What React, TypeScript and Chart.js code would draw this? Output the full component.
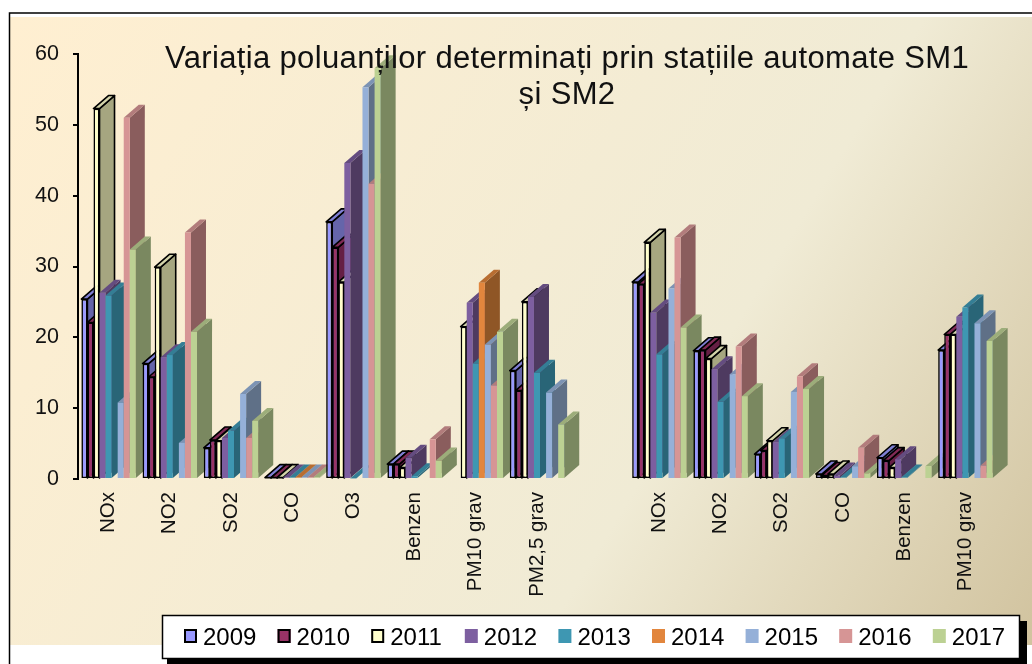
import React, { useEffect, useRef } from "react";
import { Chart, registerables } from "chart.js";

Chart.register(...registerables);

const categories = ["NOx", "NO2", "SO2", "CO", "O3", "Benzen", "PM10 grav", "PM2,5 grav", "", "NOx", "NO2", "SO2", "CO", "Benzen", "PM10 grav"];
const years = ["2009", "2010", "2011", "2012", "2013", "2014", "2015", "2016", "2017"];

const values2009 = [25.4, 16.3, 4.4, 0.2, 36.3, 2.1, null, 15.3, null, 27.8, 18.1, 3.5, 0.7, 3, 18.2];
const values2010 = [22.1, 14.4, 5.5, 0.2, 32.7, 2.1, null, 12.5, null, 27.5, 18.2, 4, 0.5, 2.6, 20.4];
const values2011 = [52.3, 29.9, 5.4, 0.2, 27.8, 1.6, 21.5, 25, null, 33.4, 17, 5.4, 0.7, 1.6, 20.4];
const values2012 = [26.3, 17.2, 5.8, 0.2, 44.6, 3, 24.9, 25.7, null, 23.5, 15.5, 5.2, 0.5, 2.8, 22.9];
const values2013 = [25.9, 17.5, 6.8, 0.2, 0.1, 0.4, 16.3, 15, null, 17.6, 10.9, 5.7, 0.2, 0.2, 24.2];
const values2014 = [null, null, null, 0.2, null, null, 27.7, null, null, null, null, null, null, null, null];
const values2015 = [10.8, 5.1, 12, 0.2, 55.3, null, 19, 12.2, null, 26.9, 14.8, 12.3, 1.8, null, 22];
const values2016 = [51, 34.8, 5.8, 0.2, 41.7, 5.6, 13.2, null, null, 34.1, 18.7, 14.5, 4.4, null, 1.9];
const values2017 = [32.4, 20.8, 8.2, 0.2, 58, 2.6, 20.8, 7.7, null, 21.4, 11.7, 12.7, 0.8, 1.8, 19.5];
const seriesValues = [values2009, values2010, values2011, values2012, values2013, values2014, values2015, values2016, values2017];

const frontColors = ["#9999FF", "#993366", "#FFFFCC", "#7D5FA0", "#3E97B2", "#E2863D", "#95B0D8", "#D69595", "#BCD193"];
const sideColors = ["#6565AA", "#651F44", "#A6A680", "#4E3A60", "#296577", "#8F5626", "#5F7087", "#8A5D5D", "#7A8860"];
const topColors = ["#7F7FD4", "#802A55", "#D4D4AA", "#644C80", "#347E95", "#B86D31", "#7C93B4", "#B27C7C", "#9CAD7A"];
const borderedSeries = [true, true, true, false, false, false, false, false, false];

const TITLE = ["Variația poluanților determinați prin stațiile automate SM1", "și SM2"];
const DEPTH_X = 15;
const DEPTH_Y = 13;

const pagePlugin = {
  id: "page",
  beforeDraw(chart: any) {
    const { ctx } = chart;
    ctx.save();
    ctx.fillStyle = "#FFFFFF";
    ctx.fillRect(0, 0, 1032, 664);
    const g = ctx.createLinearGradient(10, 17, 1032, 645);
    g.addColorStop(0, "#FFEFD1");
    g.addColorStop(0.65, "#F0EBD5");
    g.addColorStop(1, "#D1C39F");
    ctx.fillStyle = g;
    ctx.fillRect(10, 17, 1022, 628);
    ctx.strokeStyle = "#000";
    ctx.lineWidth = 1.5;
    ctx.beginPath();
    ctx.moveTo(9.5, 664);
    ctx.lineTo(9.5, 13);
    ctx.lineTo(1032, 13);
    ctx.stroke();
    ctx.restore();
  },
};

const bars3dPlugin = {
  id: "bars3d",
  beforeLayout(chart: any) {
    const t = chart.titleBlock;
    if (t)
      t._layers = () => [
        {
          z: 5,
          draw: (a: any) => {
            const c = chart.ctx;
            c.save();
            c.letterSpacing = "0.35px";
            t.draw(a);
            c.restore();
          },
        },
      ];
  },
  afterLayout(chart: any) {
    const t = chart.titleBlock;
    if (t) {
      t.left = 51;
      t.right = 1083;
    }
  },
  beforeDatasetsDraw(chart: any) {
    const { ctx } = chart;
    const n = chart.data.labels.length;
    for (let i = 0; i < n; i++) {
      chart.data.datasets.forEach((_d: any, s: number) => {
        if (seriesValues[s][i] == null) return;
        const el = chart.getDatasetMeta(s).data[i];
        const l = el.x - el.width / 2;
        const r = el.x + el.width / 2;
        const top = el.y;
        const base = el.base;
        ctx.save();
        ctx.lineJoin = "round";
        const stroke = borderedSeries[s];
        ctx.strokeStyle = "#000";
        ctx.lineWidth = 1.6;
        ctx.fillStyle = sideColors[s];
        ctx.beginPath();
        ctx.moveTo(r, top);
        ctx.lineTo(r + DEPTH_X, top - DEPTH_Y);
        ctx.lineTo(r + DEPTH_X, base - DEPTH_Y);
        ctx.lineTo(r, base);
        ctx.closePath();
        ctx.fill();
        if (stroke) ctx.stroke();
        ctx.fillStyle = topColors[s];
        ctx.beginPath();
        ctx.moveTo(l, top);
        ctx.lineTo(l + DEPTH_X, top - DEPTH_Y);
        ctx.lineTo(r + DEPTH_X, top - DEPTH_Y);
        ctx.lineTo(r, top);
        ctx.closePath();
        ctx.fill();
        if (stroke) ctx.stroke();
        ctx.restore();
        el.draw(ctx, chart.chartArea);
      });
    }
    return false;
  },
};

const legendBoxPlugin = {
  id: "legendBox",
  afterDraw(chart: any) {
    const { ctx } = chart;
    ctx.save();
    ctx.fillStyle = "#000";
    ctx.fillRect(167, 621, 860, 43);
    ctx.fillStyle = "#FFF";
    ctx.fillRect(162, 615, 858, 44);
    ctx.strokeStyle = "#000";
    ctx.lineWidth = 1.5;
    ctx.strokeRect(162.5, 615.5, 857, 43);
    ctx.font = '24px "Liberation Sans"';
    ctx.textBaseline = "alphabetic";
    ctx.textAlign = "left";
    chart.data.datasets.forEach((d: any, s: number) => {
      const x = 184 + s * 93.6;
      ctx.fillStyle = frontColors[s];
      ctx.fillRect(x, 629, 13, 14);
      if (borderedSeries[s]) {
        ctx.strokeStyle = "#000";
        ctx.lineWidth = 2;
        ctx.strokeRect(x + 1, 630, 11, 12);
      }
      ctx.fillStyle = "#000";
      ctx.fillText(d.label, x + 19, 645);
    });
    ctx.restore();
  },
};

export default function App() {
  const ref = useRef<HTMLCanvasElement | null>(null);
  useEffect(() => {
    if (!ref.current) return;
    const chart = new Chart(ref.current, {
      type: "bar",
      data: {
        labels: categories,
        datasets: years.map((y, s) => ({
          label: y,
          data: seriesValues[s],
          backgroundColor: frontColors[s],
          borderColor: "#000",
          borderWidth: borderedSeries[s] ? 1.6 : 0,
          borderSkipped: false,
          barPercentage: 1,
          categoryPercentage: 0.89,
        })),
      },
      options: {
        responsive: false,
        animation: false,
        layout: { padding: { left: 0, right: 36, top: 0, bottom: 0 } },
        plugins: {
          legend: { display: false },
          tooltip: { enabled: false },
          title: {
            display: true,
            text: TITLE,
            color: "#111",
            font: { family: '"Liberation Sans"', size: 31, weight: "normal", lineHeight: 36 / 31 },
            padding: { top: 41, bottom: -59 },
          },
        },
        scales: {
          x: {
            grid: { display: false },
            border: { display: false },
            ticks: {
              autoSkip: false,
              minRotation: 90,
              maxRotation: 90,
              padding: 5,
              color: "#111",
              font: { family: '"Liberation Sans"', size: 20.5 },
            },
            afterFit: (s: any) => {
              s.height = 185;
            },
          },
          y: {
            min: 0,
            max: 60,
            grid: { display: true, drawOnChartArea: false, drawTicks: true, tickLength: 5, tickColor: "#000", lineWidth: 2 },
            border: { display: true, color: "#000", width: 2 },
            ticks: {
              stepSize: 10,
              padding: 14,
              color: "#111",
              font: { family: '"Liberation Sans"', size: 21.5 },
            },
            afterFit: (s: any) => {
              s.width = 78;
            },
          },
        },
      },
      plugins: [pagePlugin, bars3dPlugin, legendBoxPlugin],
    } as any);
    return () => chart.destroy();
  }, []);
  return (
    <div style={{ position: "absolute", left: 0, top: 0, width: 1032, height: 664 }}>
      <canvas ref={ref} width={1032} height={664} style={{ display: "block" }} />
    </div>
  );
}
